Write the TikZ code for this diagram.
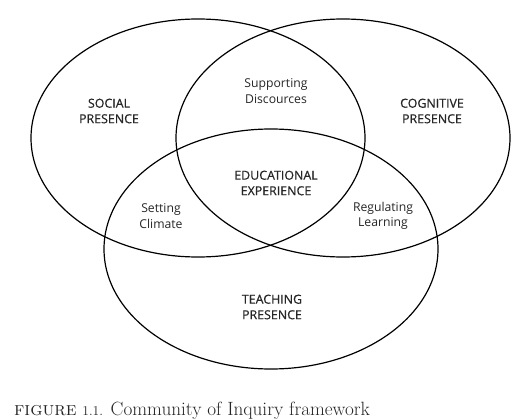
\documentclass[tikz,border=0pt]{standalone}
\usepackage{fontspec}
\setsansfont{Open Sans}
\newfontfamily\capsfont[FakeBold=0.6]{Open Sans}
\usetikzlibrary{shapes.geometric}
\tikzset{
  presence/.style={ellipse, draw, line width=1.2pt, inner sep=0pt, minimum width=334pt, minimum height=238pt},
  label/.style={align=center, font=\sffamily\fontsize{12.2}{15.5}\selectfont, text=black!85},
  caps/.style={label, font=\capsfont\fontsize{12.4}{15.5}\selectfont},
}
\begin{document}
\begin{tikzpicture}[x=1pt, y=-1pt]
\useasboundingbox (0,0) rectangle (530,420);
% The three presences
\node (social) [presence] at (198,138) {};
\node (cognitive) [presence] at (343,138) {};
\node (teaching) [presence, minimum height=240pt] at (271,249) {};

% Region labels
\node (social_lbl) [caps] at (109,111) {SOCIAL\\PRESENCE};
\node (cognitive_lbl) [caps] at (432,111) {COGNITIVE\\PRESENCE};
\node (teaching_lbl) [caps] at (272,307) {TEACHING\\PRESENCE};
\node (discourse) [label] at (276,91) {Supporting\\Discources};
\node (climate) [label] at (161,216) {Setting\\Climate};
\node (learning) [label] at (383,216) {Regulating\\Learning};
\node (experience) [caps] at (276,183) {EDUCATIONAL\\EXPERIENCE};

% Caption
\node (caption) [anchor=base west, inner sep=0pt, text=black!85, font=\fontsize{19.2}{22}\selectfont] at (14,415) {\textsc{figure} {\fontsize{13.5}{15}\selectfont 1.1.} Community of Inquiry framework};
\end{tikzpicture}
\end{document}
